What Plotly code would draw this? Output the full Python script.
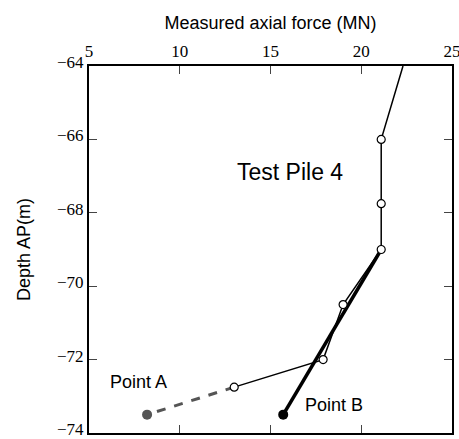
import plotly.graph_objects as go

# Measured data (thin line with open circles)
force_meas = [22.3, 21.1, 21.1, 21.1, 19.0, 17.9, 13.0]
depth_meas = [-64.0, -66.0, -67.75, -69.0, -70.5, -72.0, -72.75]

# Open-circle marker points
force_pts = [21.1, 21.1, 21.1, 19.0, 17.9, 13.0]
depth_pts = [-66.0, -67.75, -69.0, -70.5, -72.0, -72.75]

# Extrapolation to Point A (dashed grey)
force_a = [13.0, 8.2]
depth_a = [-72.75, -73.5]

# Extrapolation to Point B (thick black)
force_b = [21.1, 15.7]
depth_b = [-69.0, -73.5]

x_ticks = [5, 10, 15, 20, 25]
y_ticks = [-64, -66, -68, -70, -72, -74]

fig = go.Figure()
fig.add_trace(go.Scatter(x=force_b, y=depth_b, mode="lines",
                         line=dict(color="black", width=3.5), hoverinfo="skip"))
fig.add_trace(go.Scatter(x=force_a, y=depth_a, mode="lines",
                         line=dict(color="#555555", width=3, dash="dash"), hoverinfo="skip"))
fig.add_trace(go.Scatter(x=force_meas, y=depth_meas, mode="lines",
                         line=dict(color="black", width=1.5), hoverinfo="skip"))
fig.add_trace(go.Scatter(x=force_b[-1:], y=depth_b[-1:], mode="markers",
                         marker=dict(size=10, color="black", opacity=1,
                                     line=dict(color="black", width=0)),
                         cliponaxis=False, hoverinfo="skip"))
fig.add_trace(go.Scatter(x=force_a[-1:], y=depth_a[-1:], mode="markers",
                         marker=dict(size=10, color="#555555", opacity=1,
                                     line=dict(color="#555555", width=0)),
                         cliponaxis=False, hoverinfo="skip"))
fig.add_trace(go.Scatter(x=force_pts, y=depth_pts, mode="markers",
                         marker=dict(size=8, color="white", symbol="circle",
                                     line=dict(color="black", width=1.2)),
                         cliponaxis=False, hoverinfo="skip"))

fig.add_annotation(x=16.1, y=-66.9, text="Test Pile 4", showarrow=False,
                   font=dict(family="Liberation Sans, Arial", size=23, color="black"))
fig.add_annotation(x=7.75, y=-72.6, text="Point A", showarrow=False,
                   font=dict(family="Liberation Sans, Arial", size=18, color="black"))
fig.add_annotation(x=18.5, y=-73.25, text="Point B", showarrow=False,
                   font=dict(family="Liberation Sans, Arial", size=18, color="black"))

axis_common = dict(showgrid=False, zeroline=False, showline=True, linecolor="black",
                   linewidth=2, ticks="inside", ticklen=8, tickwidth=1.2,
                   tickcolor="#444444", mirror="ticks", ticklabeloverflow="allow",
                   automargin=False,
                   tickfont=dict(family="Liberation Serif, Times New Roman, serif",
                                 size=17, color="black"))

fig.update_layout(
    width=459, height=439,
    margin=dict(l=89, r=7, t=66, b=6),
    paper_bgcolor="white", plot_bgcolor="white",
    showlegend=False,
    xaxis=dict(range=[5, 25], tickvals=x_ticks, side="top",
               title=dict(text="Measured axial force (MN)", standoff=8,
                          font=dict(family="Liberation Sans, Arial", size=18, color="black")),
               **axis_common),
    yaxis=dict(range=[-74, -64], tickvals=y_ticks, ticklabelshift=-4,
               title=dict(text="Depth AP(m)", standoff=22,
                          font=dict(family="Liberation Sans, Arial", size=18, color="black")),
               **axis_common),
)

fig.write_html("out.html")
